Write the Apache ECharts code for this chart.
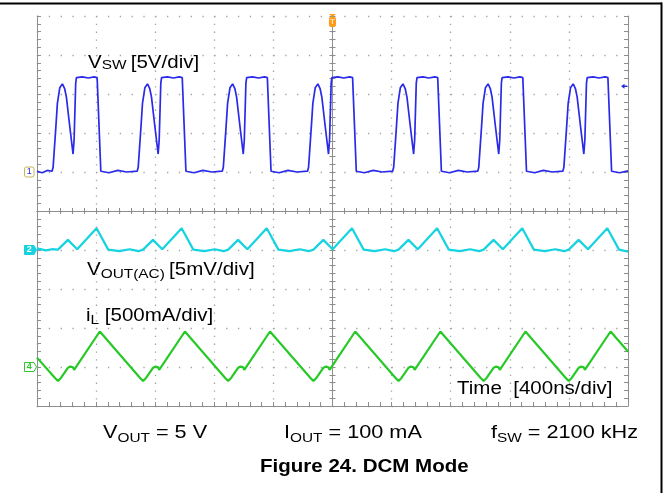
<!DOCTYPE html>
<html><head><meta charset="utf-8">
<script src="https://cdn.jsdelivr.net/npm/echarts@6/dist/echarts.min.js"></script>
<style>html,body{margin:0;padding:0;background:#fff}#c{width:669px;height:493px}</style>
</head><body><div id="c"></div>
<script>
// ---- data (time in ns) ----
const vswV = [ // switch node, volts
 [0,0.1],[35,-0.1],[70,0.2],
 [102,0.1],[109,0.6],[127,5.6],[138,8.8],[154,10.8],[172,11.3],[187,10.7],[199,9.6],[222,5.8],[244,2.3],[251,4.1],[262,11.4],[267,12.1],[307,12.2],[347,12.05],[387,12.2],[407,12.1],[432,0.1],[487,-0.1],[547,0.2],[607,0],
 [678,0.1],[685,0.6],[703,5.6],[714,8.8],[730,10.8],[748,11.3],[763,10.7],[775,9.6],[798,5.8],[820,2.3],[827,4.1],[838,11.4],[843,12.1],[883,12.2],[923,12.05],[963,12.2],[983,12.1],[1008,0.1],[1063,-0.1],[1123,0.2],[1183,0],
 [1254,0.1],[1261,0.6],[1279,5.6],[1290,8.8],[1306,10.8],[1324,11.3],[1339,10.7],[1351,9.6],[1374,5.8],[1396,2.3],[1403,4.1],[1414,11.4],[1419,12.1],[1459,12.2],[1499,12.05],[1539,12.2],[1559,12.1],[1584,0.1],[1639,-0.1],[1699,0.2],[1759,0],
 [1831,0.1],[1838,0.6],[1856,5.6],[1867,8.8],[1883,10.8],[1901,11.3],[1916,10.7],[1928,9.6],[1951,5.8],[1973,2.3],[1980,4.1],[1991,11.4],[1996,12.1],[2036,12.2],[2076,12.05],[2116,12.2],[2136,12.1],[2161,0.1],[2216,-0.1],[2276,0.2],[2336,0],
 [2407,0.1],[2414,0.6],[2432,5.6],[2443,8.8],[2459,10.8],[2477,11.3],[2492,10.7],[2504,9.6],[2527,5.8],[2549,2.3],[2556,4.1],[2567,11.4],[2572,12.1],[2612,12.2],[2652,12.05],[2692,12.2],[2712,12.1],[2737,0.1],[2792,-0.1],[2852,0.2],[2912,0],
 [2983,0.1],[2990,0.6],[3008,5.6],[3019,8.8],[3035,10.8],[3053,11.3],[3068,10.7],[3080,9.6],[3103,5.8],[3125,2.3],[3132,4.1],[3143,11.4],[3148,12.1],[3188,12.2],[3228,12.05],[3268,12.2],[3288,12.1],[3313,0.1],[3368,-0.1],[3428,0.2],[3488,0],
 [3559,0.1],[3566,0.6],[3584,5.6],[3595,8.8],[3611,10.8],[3629,11.3],[3644,10.7],[3656,9.6],[3679,5.8],[3701,2.3],[3708,4.1],[3719,11.4],[3724,12.1],[3764,12.2],[3804,12.05],[3844,12.2],[3864,12.1],[3889,0.1],[3944,-0.1],[4000,0.15]
];
const voutMV = [ // output ripple, mV (AC)
 [0,0.2],[60,-0.05],[100,0.1],
 [142,0.05],[209,1.3],[272,0.1],[403,2.8],[482,0.05],[557,-0.15],[627,0.1],[687,-0.15],
 [718,0.05],[785,1.3],[848,0.1],[979,2.8],[1058,0.05],[1133,-0.15],[1203,0.1],[1263,-0.15],
 [1294,0.05],[1361,1.3],[1424,0.1],[1555,2.8],[1634,0.05],[1709,-0.15],[1779,0.1],[1839,-0.15],
 [1871,0.05],[1938,1.3],[2001,0.1],[2132,2.8],[2211,0.05],[2286,-0.15],[2356,0.1],[2416,-0.15],
 [2447,0.05],[2514,1.3],[2577,0.1],[2708,2.8],[2787,0.05],[2862,-0.15],[2932,0.1],[2992,-0.15],
 [3023,0.05],[3090,1.3],[3153,0.1],[3284,2.8],[3363,0.05],[3438,-0.15],[3508,0.1],[3568,-0.15],
 [3599,0.05],[3666,1.3],[3729,0.1],[3860,2.8],[3939,0.05],[4000,-0.2]
];
const ilMA = [ // inductor current, mA
 [0,120],
 [122,-140],[142,-180],[162,-140],[210,-9],[226,5],[244,-4],[251,-38],[255,-29],[425,455],
 [698,-140],[718,-180],[738,-140],[786,-9],[802,5],[820,-4],[827,-38],[831,-29],[1001,455],
 [1274,-140],[1294,-180],[1314,-140],[1362,-9],[1378,5],[1396,-4],[1403,-38],[1407,-29],[1577,455],
 [1851,-140],[1871,-180],[1891,-140],[1939,-9],[1955,5],[1973,-4],[1980,-38],[1984,-29],[2154,455],
 [2427,-140],[2447,-180],[2467,-140],[2515,-9],[2531,5],[2549,-4],[2556,-38],[2560,-29],[2730,455],
 [3003,-140],[3023,-180],[3043,-140],[3091,-9],[3107,5],[3125,-4],[3132,-38],[3136,-29],[3306,455],
 [3579,-140],[3599,-180],[3619,-140],[3667,-9],[3683,5],[3701,-4],[3708,-38],[3712,-29],[3882,455],[4000,200]
];
const timeRange = [0, 4000];      // 400 ns/div, 10 div
const vswRange = [-30, 20];       // 5 V/div, ground 6 div up
const voutRange = [-20, 30];      // 5 mV/div, zero 4 div up
const ilRange = [-500, 4500];     // 500 mA/div, zero 1 div up
const trigLevelV = 11;

// ---- chart ----
const chart = echarts.init(document.getElementById('c'), null, {renderer:'canvas'});
const FC = '#8e8e8e';
const DOT = '#a3a3a3';
function gridAxis(pos, o) {
  return Object.assign({
    type:'value', min:-5, max:5, interval:1, position:pos,
    axisLabel:{show:false}, splitLine:{show:false},
    axisLine:{show:true, onZero:false, lineStyle:{color:FC, width:1}},
    axisTick:{show:true, inside:true, length:4, lineStyle:{color:FC}},
    minorTick:{show:true, splitNumber:5, length:4, lineStyle:{color:FC}}
  }, o);
}
function centerAxis(pos, inside) {
  return gridAxis(pos, {
    axisLine:{show:true, onZero:true, onZeroAxisIndex:0, lineStyle:{color:FC, width:1}},
    axisTick:{show:true, inside:inside, length:3, lineStyle:{color:FC}},
    minorTick:{show:true, splitNumber:5, length:3, lineStyle:{color:FC}}
  });
}
const option = {
  animation:false,
  backgroundColor:'#fff',
  grid:{left:37, right:41, top:16, bottom:87, outerBoundsMode:'none'},
  xAxis:[
    gridAxis('bottom', {splitLine:{show:true, lineStyle:{color:DOT, width:1.3, type:[1.3, 6.5]}}}),
    centerAxis('bottom', true),
    centerAxis('bottom', false),
    {type:'value', min:timeRange[0], max:timeRange[1], show:false}
  ],
  yAxis:[
    gridAxis('left', {splitLine:{show:true, lineStyle:{color:DOT, width:1.3, type:[1.3, 10.52]}}}),
    gridAxis('right', {}),
    centerAxis('left', true),
    centerAxis('left', false),
    {type:'value', min:vswRange[0], max:vswRange[1], show:false},
    {type:'value', min:voutRange[0], max:voutRange[1], show:false},
    {type:'value', min:ilRange[0], max:ilRange[1], show:false}
  ],
  series:[
    {type:'line', name:'iL', xAxisIndex:3, yAxisIndex:6, data:ilMA, symbol:'none', silent:true, z:3,
     lineStyle:{color:'#27c927', width:2.2}},
    {type:'line', name:'VOUT', xAxisIndex:3, yAxisIndex:5, data:voutMV, symbol:'none', silent:true, z:4,
     lineStyle:{color:'#15d3e0', width:2.2}},
    {type:'line', name:'VSW', xAxisIndex:3, yAxisIndex:4, data:vswV, symbol:'none', silent:true, z:5,
     lineStyle:{color:'#2a2ae8', width:1.7}}
  ]
};
chart.setOption(option);

// ---- annotations ----
const cv = document.createElement('canvas').getContext('2d');
const FF = '"Liberation Sans", Arial, sans-serif';
function tw(t, s, b) { cv.font = (b ? 'bold ' : '') + s + 'px ' + FF; return cv.measureText(t).width; }
const SX = 1.14;
function textLine(x, base, parts) {
  const out = [];
  parts.forEach(p => {
    const [t, s, dy, b] = p;
    out.push({type:'text', x:x, y:base + (dy || 0) - 0.3465 * s, scaleX:SX, silent:true, z:10,
      style:{text:t, fontSize:s, fontFamily:FF, fontWeight:b ? 'bold' : 'normal', fill:'#000', align:'left', verticalAlign:'middle'}});
    x += tw(t, s, b) * SX;
  });
  return out;
}
const px = v => chart.convertToPixel({xAxisIndex:3}, v);
const pyV = v => chart.convertToPixel({yAxisIndex:4}, v);
const pyO = v => chart.convertToPixel({yAxisIndex:5}, v);
const pyI = v => chart.convertToPixel({yAxisIndex:6}, v);
const left = px(timeRange[0]), right = px(timeRange[1]), mid = px((timeRange[0] + timeRange[1]) / 2);
const topY = chart.convertToPixel({yAxisIndex:0}, 5);

function marker(y, label, kind) {
  const x0 = left - 12.5, x1 = left - 3;
  const els = [];
  if (kind === 1) {
    els.push({type:'rect', shape:{x:x0, y:y - 5, width:x1 - x0, height:10, r:2}, style:{fill:'#fff', stroke:'#c6b655', lineWidth:1}, z:10});
    els.push({type:'text', x:(x0 + x1) / 2, y:y, style:{text:label, fontSize:9, fontFamily:FF, fill:'#2a2ae8', align:'center', verticalAlign:'middle'}, z:11});
  } else {
    const pts = [[x0, y - 4.5], [x1, y - 4.5], [x1 + 2.5, y], [x1, y + 4.5], [x0, y + 4.5]];
    const filled = kind === 2;
    const col = filled ? '#15d3e0' : '#2ec82e';
    els.push({type:'polygon', shape:{points:pts}, style:{fill:filled ? col : '#fff', stroke:col, lineWidth:1}, z:10});
    els.push({type:'text', x:(x0 + x1) / 2, y:y, style:{text:label, fontSize:9, fontWeight:'bold', fontFamily:FF, fill:filled ? '#fff' : col, align:'center', verticalAlign:'middle'}, z:11});
  }
  return els;
}
const trigY = pyV(trigLevelV);
const graphics = [].concat(
  textLine(88, 69.5, [['V',18],['SW ',13.5],['[5V/div]',18]]),
  textLine(87, 276.5, [['V',18],['OUT(AC) ',13.5,2],['[5mV/div]',18]]),
  textLine(86, 322, [['i',18],['L',13.5,3],[' [500mA/div]',18]]),
  textLine(457, 395.5, [['Time  [400ns/div]',18]]),
  textLine(103, 439, [['V',19],['OUT',13.5,4],[' = 5 V',19]]),
  textLine(284, 439, [['I',19],['OUT',13.5,4],[' = 100 mA',19]]),
  textLine(491, 439, [['f',19],['SW',13.5,4],[' = 2100 kHz',19]]),
  textLine(260, 473.5, [['Figure 24. DCM Mode',18,0,true]]),
  marker(pyV(0), '1', 1),
  marker(pyO(0), '2', 2),
  marker(pyI(0), '4', 4),
  [
    {type:'polygon', shape:{points:[[mid - 3.5, topY - 2], [mid + 3.5, topY - 2], [mid, topY + 1]]}, style:{fill:'#ff9a1a'}, z:10},
    {type:'rect', shape:{x:mid - 3.5, y:topY + 1, width:7, height:10, r:2}, style:{fill:'#ff9a1a'}, z:10},
    {type:'text', x:mid, y:topY + 6, style:{text:'T', fontSize:8, fontWeight:'bold', fontFamily:FF, fill:'#ffe2b8', align:'center', verticalAlign:'middle'}, z:11},
    {type:'polygon', shape:{points:[[right - 7, trigY], [right - 3.5, trigY - 2.5], [right - 3.5, trigY + 2.5]]}, style:{fill:'#2a2ae8'}, z:10},
    {type:'line', shape:{x1:right - 4, y1:trigY, x2:right - 1, y2:trigY}, style:{stroke:'#2a2ae8', lineWidth:1.5}, z:10},
    {type:'line', shape:{x1:0, y1:3.5, x2:662, y2:3.5}, style:{stroke:'#000', lineWidth:2}, z:10},
    {type:'line', shape:{x1:661.5, y1:2.5, x2:661.5, y2:493}, style:{stroke:'#000', lineWidth:2}, z:10}
  ]
);
chart.setOption({graphic:graphics});
</script>
</body></html>
